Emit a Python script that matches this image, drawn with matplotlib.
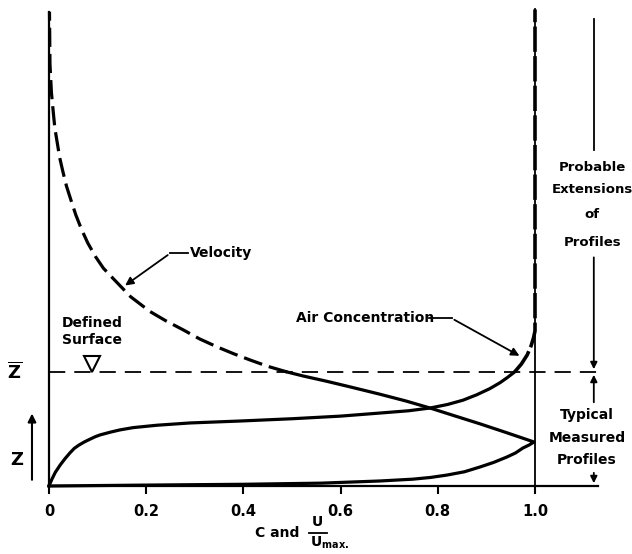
import matplotlib
matplotlib.use("Agg")
import matplotlib.pyplot as plt

plt.rcParams['font.family'] = ['DejaVu Sans']
plt.rcParams['font.weight'] = 'bold'

# ---- data (x = C or U/Umax, y = height, Zbar = 1) ----
xticks = [0, 0.2, 0.4, 0.6, 0.8, 1.0]
xticklabels = ["0", "0.2", "0.4", "0.6", "0.8", "1.0"]

vel_below_x = [0.0, 0.2, 0.4, 0.56, 0.681, 0.749, 0.785, 0.819, 0.855, 0.887, 0.915, 0.942, 0.96,
               0.975, 0.988, 0.998, 0.94, 0.887, 0.835, 0.784, 0.735, 0.681, 0.619, 0.57, 0.523, 0.49]
vel_below_y = [0.0, 0.008, 0.015, 0.025, 0.044, 0.06, 0.075, 0.096, 0.125, 0.167, 0.207, 0.254, 0.29,
               0.333, 0.36, 0.386, 0.47, 0.545, 0.615, 0.684, 0.745, 0.805, 0.87, 0.92, 0.965, 1.0]
vel_above_x = [0.49, 0.45, 0.414, 0.38, 0.346, 0.31, 0.276, 0.24, 0.208, 0.168, 0.132, 0.112, 0.096,
               0.08, 0.067, 0.055, 0.045, 0.036, 0.029, 0.022, 0.017, 0.012, 0.009, 0.005, 0.002, 0.001]
vel_above_y = [1.0, 1.05, 1.105, 1.16, 1.22, 1.29, 1.37, 1.45, 1.53, 1.66, 1.82, 1.91, 2.01,
               2.13, 2.25, 2.38, 2.51, 2.63, 2.75, 2.88, 3.01, 3.14, 3.27, 3.45, 3.7, 4.16]

air_below_x = [0.0, 0.006, 0.013, 0.023, 0.033, 0.043, 0.052, 0.062, 0.073, 0.084, 0.095, 0.105,
               0.126, 0.146, 0.173, 0.222, 0.29, 0.393, 0.5, 0.6, 0.681, 0.74, 0.784, 0.82, 0.852,
               0.88, 0.907, 0.928, 0.942, 0.958]
air_below_y = [0.0, 0.06, 0.12, 0.184, 0.24, 0.29, 0.33, 0.36, 0.387, 0.41, 0.432, 0.448,
               0.472, 0.492, 0.512, 0.533, 0.553, 0.57, 0.59, 0.613, 0.64, 0.66, 0.684, 0.715, 0.753,
               0.80, 0.854, 0.906, 0.948, 1.0]
air_above_x = [0.958, 0.972, 0.984, 0.992, 0.997, 1.0, 1.0]
air_above_y = [1.0, 1.07, 1.15, 1.23, 1.30, 1.36, 4.18]

Y_TOP = 4.2

fig = plt.figure(figsize=(6.32, 5.54), dpi=100)
ax = fig.add_axes([49/632, (554-486)/554, 486/632, Y_TOP*114/554])
ax.set_xlim(0, 1.0)
ax.set_ylim(0, Y_TOP)
for s in ax.spines.values():
    s.set_visible(False)
ax.set_yticks([])
ax.set_xticks(xticks)
ax.set_xticklabels(xticklabels, fontsize=10.5, fontweight='bold')
ax.tick_params(axis='x', direction='out', length=6, width=1.5, pad=7)

k = dict(color='black', clip_on=False)
# frame lines
ax.plot([0, 0], [0, 4.16], lw=1.6, **k)
ax.plot([1.0, 1.0], [0, 4.18], lw=1.3, **k)
ax.plot([0, 1.13], [0, 0], lw=1.6, **k)
ax.plot([0, 1.13], [1.0, 1.0], lw=1.3, dashes=(9, 5), **k)

# profiles
ax.plot(vel_below_x, vel_below_y, lw=2.3, solid_joinstyle='round', **k)
ax.plot(vel_above_x, vel_above_y, lw=2.3, dashes=(6, 2.2), **k)
ax.plot(air_below_x, air_below_y, lw=2.3, solid_joinstyle='round', **k)
ax.plot(air_above_x, air_above_y, lw=2.6, dashes=(7, 1.2), **k)

# defined surface triangle
ax.plot([0.088], [1.07], marker='v', markersize=11, markerfacecolor='white',
        markeredgecolor='black', markeredgewidth=1.5, clip_on=False)
ax.text(0.088, 1.43, "Defined", ha='center', va='center', fontsize=10, fontweight='bold')
ax.text(0.088, 1.28, "Surface", ha='center', va='center', fontsize=10, fontweight='bold')

# velocity label
ax.text(0.29, 2.04, "Velocity", ha='left', va='center', fontsize=10, fontweight='bold')
ax.plot([0.285, 0.249], [2.04, 2.04], lw=1.3, **k)
ax.annotate("", xy=(0.152, 1.745), xytext=(0.249, 2.04),
            arrowprops=dict(arrowstyle='-|>', color='black', lw=1.3, mutation_scale=12))

# air concentration label
ax.text(0.508, 1.47, "Air Concentration", ha='left', va='center', fontsize=10, fontweight='bold')
ax.plot([0.782, 0.829], [1.47, 1.47], lw=1.3, **k)
ax.annotate("", xy=(0.973, 1.13), xytext=(0.829, 1.47),
            arrowprops=dict(arrowstyle='-|>', color='black', lw=1.3, mutation_scale=12))

# left labels
ax.text(-0.07, 1.0, r"$\overline{\mathbf{Z}}$", ha='center', va='center', fontsize=13)
ax.text(-0.066, 0.23, "Z", ha='center', va='center', fontsize=13, fontweight='bold')
ax.annotate("", xy=(-0.035, 0.66), xytext=(-0.035, 0.03),
            arrowprops=dict(arrowstyle='-|>', color='black', lw=1.5, mutation_scale=12),
            annotation_clip=False)

# right annotations
xa = 1.121
ax.plot([xa, xa], [4.1, 2.95], lw=1.3, **k)
for yy, t in [(2.79, "Probable"), (2.60, "Extensions"), (2.38, "of"), (2.14, "Profiles")]:
    ax.text(1.118, yy, t, ha='center', va='center', fontsize=9.5, fontweight='bold', clip_on=False)
ax.annotate("", xy=(xa, 1.0), xytext=(xa, 2.03),
            arrowprops=dict(arrowstyle='-|>', color='black', lw=1.3, mutation_scale=10),
            annotation_clip=False)
ax.annotate("", xy=(xa, 1.0), xytext=(xa, 0.71),
            arrowprops=dict(arrowstyle='-|>', color='black', lw=1.3, mutation_scale=10),
            annotation_clip=False)
for yy, t in [(0.62, "Typical"), (0.42, "Measured"), (0.23, "Profiles")]:
    ax.text(1.107, yy, t, ha='center', va='center', fontsize=10, fontweight='bold', clip_on=False)
ax.annotate("", xy=(xa, 0.0), xytext=(xa, 0.14),
            arrowprops=dict(arrowstyle='-|>', color='black', lw=1.3, mutation_scale=10),
            annotation_clip=False)

# x-axis label: C and U / Umax.
ax.text(0.47, -0.41, "C and", ha='center', va='center', fontsize=10, fontweight='bold', clip_on=False)
ax.text(0.553, -0.32, "U", ha='center', va='center', fontsize=10, fontweight='bold', clip_on=False)
ax.plot([0.535, 0.572], [-0.41, -0.41], lw=1.3, **k)
ax.text(0.538, -0.50, r"U$_{\mathbf{max.}}$", ha='left', va='center', fontsize=10,
        fontweight='bold', clip_on=False)

fig.savefig("out.png", dpi=100)
